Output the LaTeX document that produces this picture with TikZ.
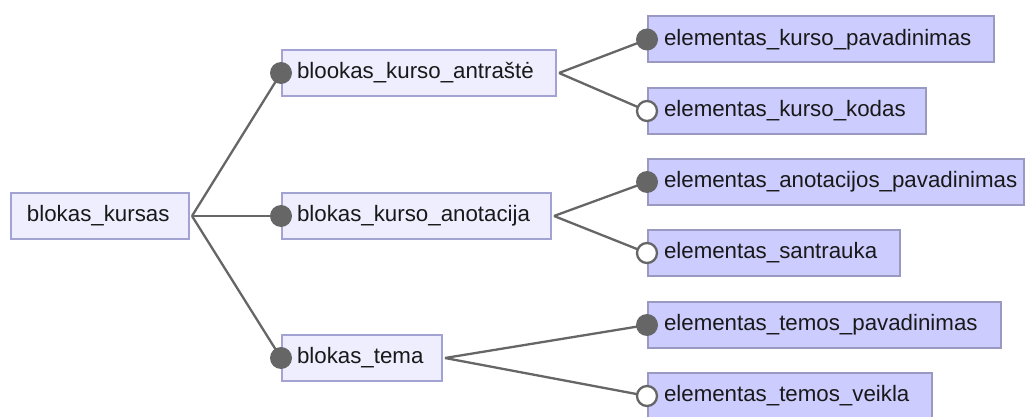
\documentclass[tikz,border=0pt]{standalone}
\usepackage{fontspec}
\setmainfont{Liberation Sans}
\definecolor{lfill}{HTML}{EEEEFF}
\definecolor{lborder}{HTML}{A3A3D3}
\definecolor{efill}{HTML}{CCCCFF}
\definecolor{eborder}{HTML}{9999C2}
\definecolor{linec}{HTML}{666666}
\tikzset{
  box/.style={draw, line width=2pt, minimum height=46pt, inner ysep=0pt, anchor=west, align=left, font=\fontsize{22.3}{26}\selectfont, text=black!90},
  lbox/.style={box, fill=lfill, draw=lborder},
  ebox/.style={box, fill=efill, draw=eborder},
  conn/.style={draw=linec, line width=2.3pt},
  fulldot/.style={fill=linec, draw=none},
  opendot/.style={fill=white, draw=linec, line width=2.3pt}
}
\begin{document}
\begin{tikzpicture}[x=1pt,y=-1pt]
\useasboundingbox (0,0) rectangle (1026,417);
% root
\node[lbox, inner xsep=16pt, text width=146pt] (root) at (10,216) {blokas\_kursas};
% second level
\node[lbox, inner xsep=15pt, text width=244pt] (ant) at (281,73) {blookas\_kurso\_antraštė};
\node[lbox, inner xsep=15pt, text width=239pt] (anot) at (281,216) {blokas\_kurso\_anotacija};
\node[lbox, inner xsep=15pt, text width=130pt] (tema) at (281,358) {blokas\_tema};
% elements
\node[ebox, inner xsep=16pt, text width=314pt] (e1) at (647,39.5) {elementas\_kurso\_pavadinimas};
\node[ebox, inner xsep=16pt, text width=246pt] (e2) at (647,111) {elementas\_kurso\_kodas};
\node[ebox, inner xsep=16pt, text width=344pt] (e3) at (647,182) {elementas\_anotacijos\_pavadinimas};
\node[ebox, inner xsep=16pt, text width=220pt] (e4) at (647,253) {elementas\_santrauka};
\node[ebox, inner xsep=16pt, text width=321pt] (e5) at (647,325) {elementas\_temos\_pavadinimas};
\node[ebox, inner xsep=16pt, text width=252pt] (e6) at (647,396) {elementas\_temos\_veikla};
% connectors
\coordinate (r) at ([xshift=2pt]root.east);
\coordinate (a) at ([xshift=2pt]ant.east);
\coordinate (b) at ([xshift=2pt]anot.east);
\coordinate (c) at ([xshift=2pt]tema.east);
\foreach \t in {ant,anot,tema} \draw[conn] (r) -- (\t.west);
\draw[conn] (a) -- (e1.west);
\draw[conn] (a) -- (e2.west);
\draw[conn] (b) -- (e3.west);
\draw[conn] (b) -- (e4.west);
\draw[conn] (c) -- (e5.west);
\draw[conn] (c) -- (e6.west);
% dots
\foreach \t in {ant,anot,tema,e1,e3,e5} \path[fulldot] (\t.west) circle (11pt);
\foreach \t in {e2,e4,e6} \path[opendot] (\t.west) circle (10pt);
\end{tikzpicture}
\end{document}
